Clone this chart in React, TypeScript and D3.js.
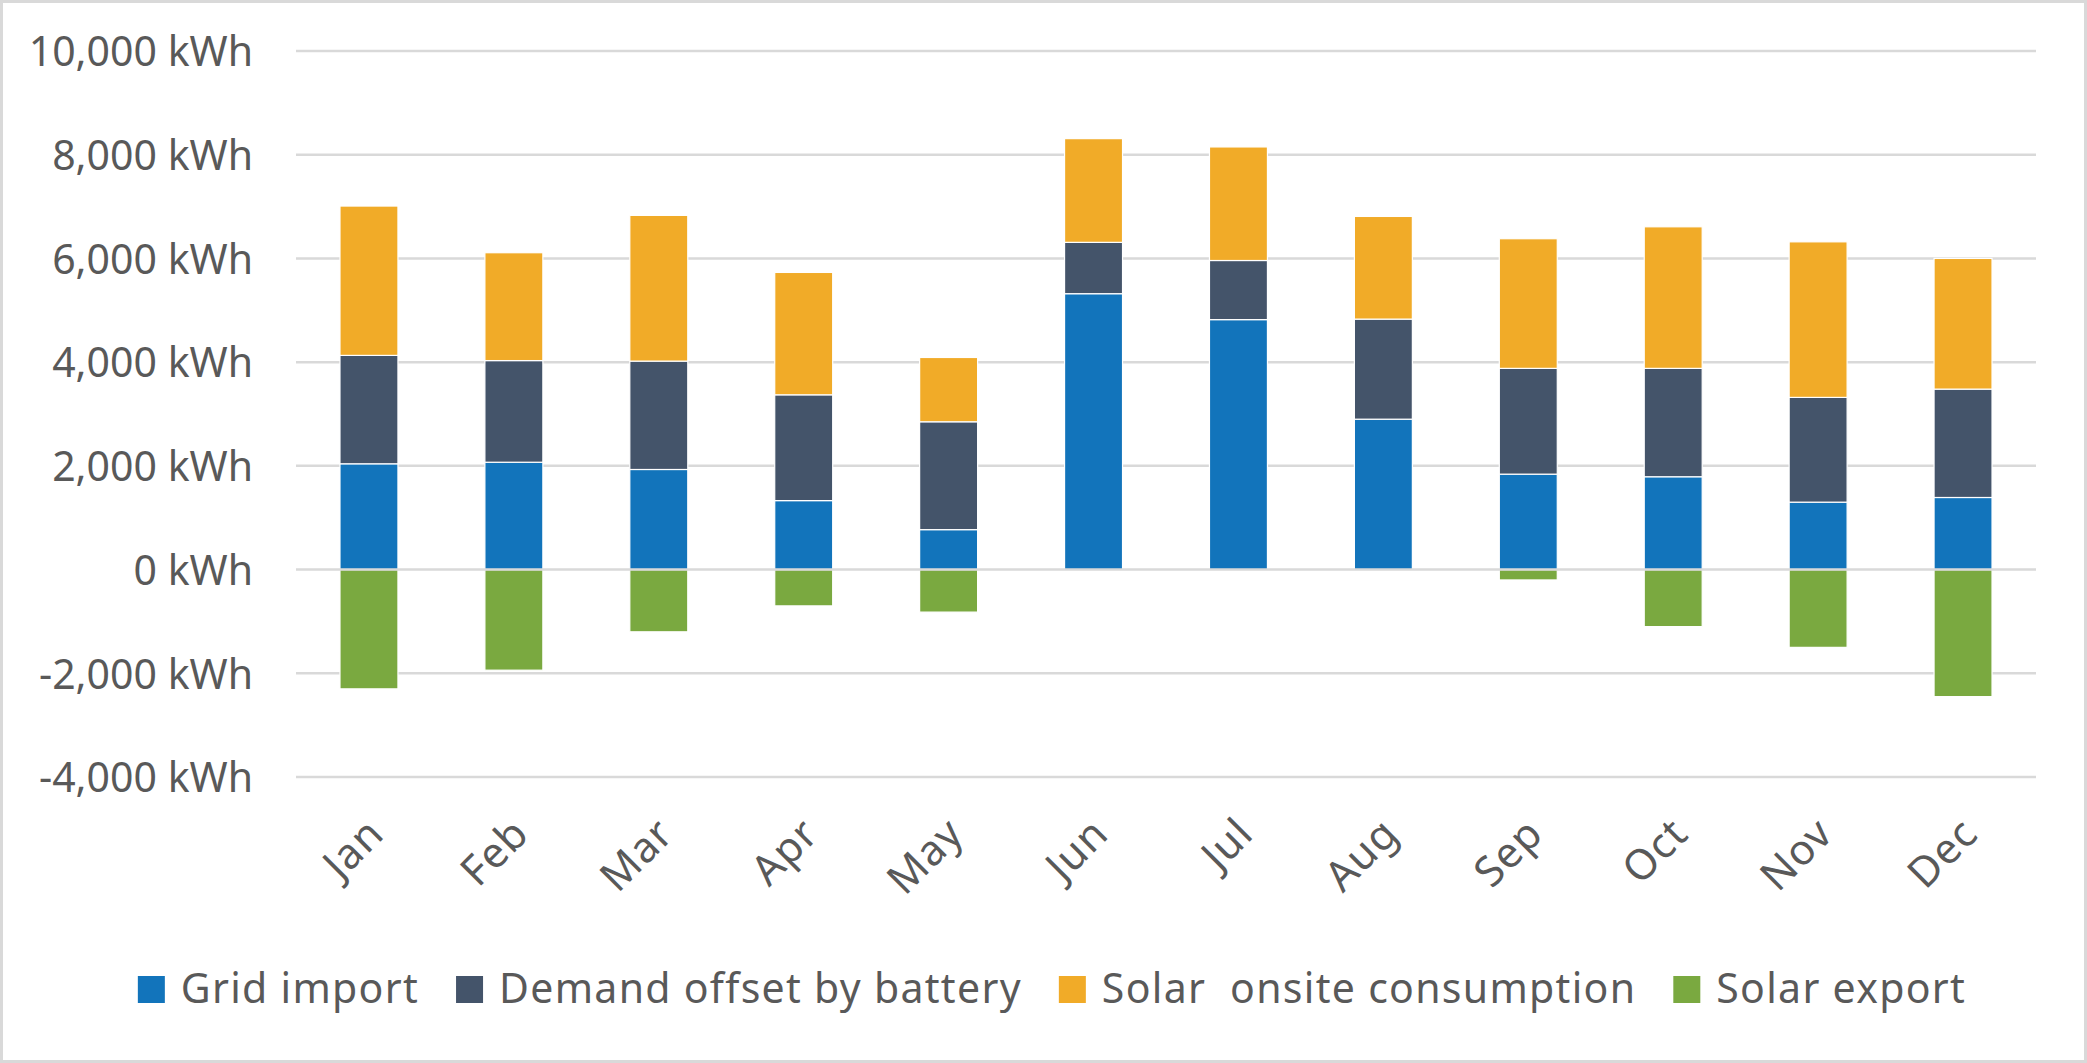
import * as d3 from "d3"
import React from "react"

const months = ["Jan", "Feb", "Mar", "Apr", "May", "Jun", "Jul", "Aug", "Sep", "Oct", "Nov", "Dec"]
const gridImport = [2040, 2070, 1930, 1330, 770, 5320, 4820, 2900, 1840, 1790, 1300, 1390]
const batteryOffset = [2090, 1960, 2090, 2040, 2080, 990, 1140, 1930, 2040, 2090, 2020, 2090]
const solarOnsite = [2880, 2080, 2810, 2360, 1240, 2000, 2190, 1980, 2500, 2730, 3000, 2520]
const solarExport = [-2300, -1940, -1200, -700, -820, 0, 0, 0, -200, -1100, -1500, -2450]

const seriesKeys = ["grid", "battery", "solar", "export"]
const seriesNames = ["Grid import", "Demand offset by battery", "Solar  onsite consumption", "Solar export"]
const seriesColors = ["#1274bb", "#44546a", "#f1ab28", "#7aa940"]
const yTicks = [-4000, -2000, 0, 2000, 4000, 6000, 8000, 10000]

const width = 2087
const height = 1063
const font = "'Noto Sans', 'Open Sans', sans-serif"
const textColor = "#595959"

const locale = d3.formatLocale({ decimal: ".", thousands: ",", grouping: [3], currency: ["$", ""], minus: "-" })
const fmt = locale.format(",")

const drawChart = (el: SVGSVGElement) => {
  const svg = d3.select(el)
  svg.selectAll("*").remove()

  const rows = months.map((m, i) => ({
    month: m,
    grid: gridImport[i],
    battery: batteryOffset[i],
    solar: solarOnsite[i],
    export: solarExport[i],
  }))

  const x = d3.scaleBand(months, [296.5, 2035.5]).paddingInner(0.6).paddingOuter(0.3)
  const y = d3.scaleLinear([-4000, 10000], [777, 51])

  const stacked = d3.stack<any>().keys(seriesKeys).offset(d3.stackOffsetDiverging)(rows)

  // outer frame
  svg.append("rect")
    .attr("x", 1.5).attr("y", 1.5)
    .attr("width", width - 3).attr("height", height - 3)
    .attr("fill", "#fff")
    .attr("stroke", "#d9d9d9")
    .attr("stroke-width", 3)

  // gridlines
  svg.append("g")
    .selectAll("line")
    .data(yTicks.filter(d => d !== 0))
    .join("line")
    .attr("x1", 296).attr("x2", 2036)
    .attr("y1", d => y(d)).attr("y2", d => y(d))
    .attr("stroke", "#d9d9d9")
    .attr("stroke-width", 2.5)

  // bars
  svg.append("g")
    .selectAll("g")
    .data(stacked)
    .join("g")
    .attr("fill", (_, i) => seriesColors[i])
    .selectAll("rect")
    .data(d => d)
    .join("rect")
    .attr("x", (d: any) => x(d.data.month)!)
    .attr("width", x.bandwidth())
    .attr("y", d => y(Math.max(d[0], d[1])))
    .attr("height", d => Math.abs(y(d[0]) - y(d[1])))
    .attr("stroke", "#fff")
    .attr("stroke-width", 1.2)

  // zero line on top
  svg.append("line")
    .attr("x1", 296).attr("x2", 2036)
    .attr("y1", y(0)).attr("y2", y(0))
    .attr("stroke", "#d9d9d9")
    .attr("stroke-width", 2.5)

  // y axis labels
  svg.append("g")
    .attr("transform", "translate(296,0)")
    .call(d3.axisLeft(y).tickValues(yTicks).tickSize(0).tickPadding(43).tickFormat((d: any) => `${fmt(d)} kWh`))
    .call(g => g.select(".domain").remove())
    .call(g => g.selectAll("text")
      .attr("font-family", font)
      .attr("font-size", 41)
      .attr("fill", textColor)
      .attr("dy", "0.36em"))

  // x labels rotated
  svg.append("g")
    .selectAll("text")
    .data(months)
    .join("text")
    .attr("transform", d => `translate(${x(d)! + x.bandwidth() / 2 + 17},836) rotate(-45)`)
    .attr("text-anchor", "end")
    .attr("font-family", font)
    .attr("font-size", 42)
    .attr("letter-spacing", 1)
    .attr("fill", textColor)
    .text(d => d)

  // legend
  const legend = svg.append("g")
  const items = legend.selectAll("g")
    .data(seriesNames)
    .join("g")
  items.append("rect")
    .attr("y", 976)
    .attr("width", 27).attr("height", 27)
    .attr("fill", (_, i) => seriesColors[i])
  const labels = items.append("text")
    .attr("x", 43)
    .attr("y", 1003)
    .attr("font-family", font)
    .attr("font-size", 41)
    .attr("letter-spacing", 1.3)
    .attr("fill", textColor)
    .attr("xml:space", "preserve")
    .style("white-space", "pre")
    .text(d => d)

  const widths = labels.nodes().map(n => (n as SVGTextElement).getComputedTextLength())
  const gap = 37
  const total = d3.sum(widths.map(w => 43 + w)) + gap * (widths.length - 1)
  let cursor = 1052 - total / 2
  items.attr("transform", (_, i) => {
    const t = `translate(${cursor},0)`
    cursor += 43 + widths[i] + gap
    return t
  })
}

const App = () => {
  const ref = React.useRef<SVGSVGElement>(null)
  React.useEffect(() => {
    document.body.style.margin = "0"
    if (ref.current) drawChart(ref.current)
  }, [])
  return <svg ref={ref} width={width} height={height} viewBox={`0 0 ${width} ${height}`} style={{ display: "block" }} />
}

export default App
